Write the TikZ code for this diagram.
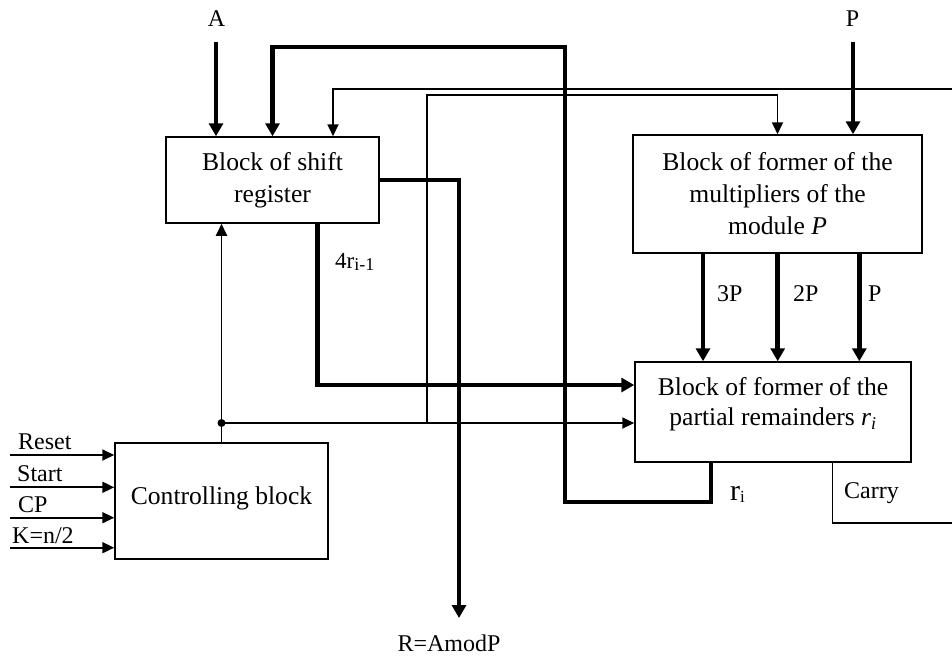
\documentclass[tikz,border=0pt]{standalone}
\usepackage{fontspec}
\setmainfont{Liberation Serif}
\usetikzlibrary{arrows.meta}
\begin{document}
\begin{tikzpicture}[x=1pt,y=-1pt,
  box/.style={draw,line width=1.5pt,align=center,inner sep=0pt,font=\fontsize{25.6}{32}\selectfont},
  txt/.style={align=center,inner sep=0pt,font=\fontsize{25.6}{30}\selectfont},
  lab/.style={inner sep=0pt,font=\fontsize{24}{28}\selectfont},
  thk/.style={line width=4.5pt,line join=miter,-{Triangle[length=13pt,width=14pt]}},
  thkn/.style={line width=4.5pt,line join=miter},
  thn/.style={line width=1.8pt,line join=miter,-{Triangle[length=12pt,width=11pt]}},
  thnn/.style={line width=1.8pt,line join=miter}]
\useasboundingbox (0,0) rectangle (952,657);

% blocks
\node[box,minimum width=213pt,minimum height=86pt] (sr) at (272.5,180) {Block of shift\\register};
\node[box,minimum width=289pt,minimum height=118pt] (mp) at (777.5,194) {Block of former of the\\multipliers of the\\module \textit{P}};
\node[box,minimum width=276pt,minimum height=100pt] (pr) at (773,412) {};
\node[txt] (prt) at (773,404) {Block of former of the\\partial remainders \textit{r\textsubscript{i}}};
\node[box,minimum width=213pt,minimum height=116pt] (cb) at (221.5,501) {\raisebox{11pt}{Controlling block}};

% coordinates
\coordinate (Ain) at (216,42);
\coordinate (Pin) at (853,42);
\coordinate (y95) at (0,95);
\coordinate (rin) at (952,89);
\coordinate (j) at (221.5,423);
\coordinate (k) at (427.3,423);
\coordinate (Rend) at (459,618);
\coordinate (Cend) at (952,522.7);
\coordinate (x3) at (703,0);
\coordinate (x2) at (777.7,0);
\coordinate (x1) at (859.3,0);
\coordinate (i1) at (10,455);
\coordinate (i2) at (10,487.3);
\coordinate (i3) at (10,517.7);
\coordinate (i4) at (10,547.7);

% labels
\node[lab,anchor=base] (Alab) at (216.5,26.5) {A};
\node[lab,anchor=base] (Plab) at (852.5,26.5) {P};
\node[lab,anchor=base] (Rlab) at (449,651) {R=AmodP};
\node[lab,anchor=base west] (r4lab) at (335,268) {\fontsize{23}{23}\selectfont 4r\raisebox{-2.5pt}{\fontsize{18}{18}\selectfont i-1}};
\node[lab,anchor=base west] (l3P) at (717,301.7) {3P};
\node[lab,anchor=base west] (l2P) at (793,301.7) {2P};
\node[lab,anchor=base west] (l1P) at (868,301.7) {P};
\node[lab,anchor=base west] (rilab) at (730,500) {\fontsize{30}{30}\selectfont r\raisebox{-2pt}{\fontsize{17}{17}\selectfont i}};
\node[lab,anchor=base west] (carry) at (844,498) {Carry};
\node[lab,anchor=base west] (reset) at (18,449) {Reset};
\node[lab,anchor=base west] (start) at (17,481.7) {Start};
\node[lab,anchor=base west] (cp) at (18,512.7) {CP};
\node[lab,anchor=base west] (kn) at (12,543) {K=n/2};

% thick connectors
\draw[thk] (Ain) -- (Ain |- sr.north);
\draw[thk] (Pin) -- (Pin |- mp.north);
\draw[thk] ([xshift=-62pt]pr.south) |- (565,502) |- (272.5,47) -- (sr.north);
\draw[thk] ([xshift=45pt]sr.south) |- ([yshift=27pt]pr.west);
\draw[thk] (sr.east) -| (Rend);
\draw[thk] (x3 |- mp.south) -- (x3 |- pr.north);
\draw[thk] (x2 |- mp.south) -- (x2 |- pr.north);
\draw[thk] (x1 |- mp.south) -- (x1 |- pr.north);

% thin connectors
\draw[thn] (cb.north) -- (j |- sr.south);
\fill (j) circle (4pt);
\draw[thn] (j) -- (j -| pr.west);
\draw[thn] (k) |- (mp.north |- y95) -- (mp.north);
\draw[thn] (rin) -| ([xshift=60.5pt]sr.north);
\draw[thnn] ([xshift=59.5pt]pr.south) |- (Cend);
\draw[thn] (i1) -- (i1 -| cb.west);
\draw[thn] (i2) -- (i2 -| cb.west);
\draw[thn] (i3) -- (i3 -| cb.west);
\draw[thn] (i4) -- (i4 -| cb.west);
\end{tikzpicture}
\end{document}
